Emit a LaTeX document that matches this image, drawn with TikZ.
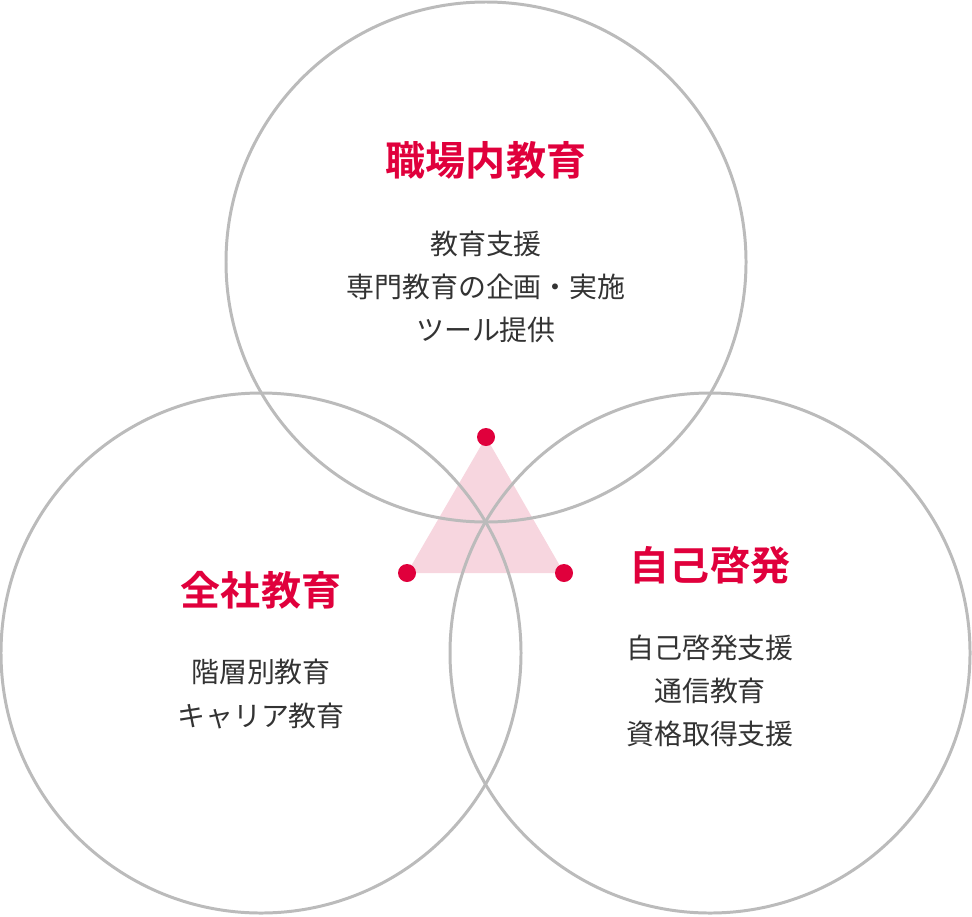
\documentclass[tikz,border=0pt]{standalone}
\usepackage{fontspec}
\newfontfamily\cjk{Noto Sans CJK JP}
\newfontfamily\cjkb{Noto Sans CJK JP Bold}
\definecolor{accent}{HTML}{E0003C}
\definecolor{ring}{HTML}{BBBBBB}
\definecolor{tri}{HTML}{F7D6DF}
\definecolor{body}{HTML}{333333}
\begin{document}
\begin{tikzpicture}[x=0.02cm,y=-0.02cm,
  ring/.style={draw=ring,line width=1.7pt},
  title/.style={text=accent,font=\cjkb\fontsize{22.8}{26}\selectfont},
  desc/.style={text=body,align=center,font=\cjk\fontsize{15.9}{24.5}\selectfont},
  dot/.style={circle,fill=accent,inner sep=0pt,minimum size=0.36cm}]
  \useasboundingbox (0,0) rectangle (972,916);

  % triangle between the dots
  \coordinate (ta) at (486,437);
  \coordinate (tb) at (407,573);
  \coordinate (tc) at (564,573);
  \fill[tri] (ta) -- (tb) -- (tc) -- cycle;

  \draw[ring] (486,262) circle (260);
  \draw[ring] (261,653) circle (260);
  \draw[ring] (710,653) circle (260);

  \node[dot] (da) at (ta) {};
  \node[dot] (db) at (tb) {};
  \node[dot] (dc) at (tc) {};

  \node[title] (top) at (486,160) {職場内教育};
  \node[desc] (topd) at (486,287) {教育支援\\専門教育の企画・実施\\ツール提供};

  \node[title] (left) at (261,590) {全社教育};
  \node[desc] (leftd) at (261,694) {階層別教育\\キャリア教育};

  \node[title] (right) at (710,565) {自己啓発};
  \node[desc] (rightd) at (710,691) {自己啓発支援\\通信教育\\資格取得支援};
\end{tikzpicture}
\end{document}
